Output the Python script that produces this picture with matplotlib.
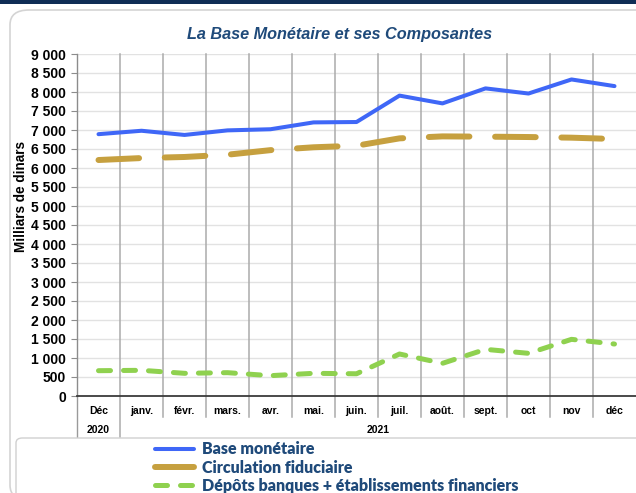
import matplotlib
matplotlib.use("Agg")
import matplotlib.pyplot as plt
import matplotlib.transforms as mtransforms
from matplotlib.patches import FancyBboxPatch, Rectangle
from matplotlib.lines import Line2D

# ---------------- data ----------------
months = ["Déc", "janv.", "févr.", "mars.", "avr.", "mai.", "juin.",
          "juil.", "août.", "sept.", "oct", "nov", "déc"]
years = ["2020", "2021"]
base_monetaire = [6890, 6980, 6870, 6990, 7020, 7200, 7210,
                  7905, 7700, 8095, 7960, 8330, 8155]
circulation_fiduciaire = [6210, 6262, 6290, 6350, 6470, 6545, 6587,
                          6780, 6832, 6825, 6815, 6798, 6763]
depots_banques = [666, 676, 597, 614, 535, 597, 585,
                  1105, 860, 1228, 1123, 1491, 1368]
series_labels = ["Base monétaire", "Circulation fiduciaire",
                 "Dépôts banques + établissements financiers"]
yticks = list(range(0, 9001, 500))

W, H = 636, 493
plt.rcParams['font.family'] = ['Liberation Sans', 'DejaVu Sans']

fig = plt.figure(figsize=(W / 100, H / 100), dpi=100)

def fx(px):
    return px / W

def fy(py):
    return 1 - py / H

# background decorations
fig.patches.append(Rectangle((0, fy(4)), 1, 4 / H, transform=fig.transFigure,
                             facecolor="#0f2d55", edgecolor="none", zorder=-2))
fig.patches.append(FancyBboxPatch((fx(10), fy(500)), fx(700), 490 / H,
                                  boxstyle="round,pad=0,rounding_size=0.03",
                                  transform=fig.transFigure, facecolor="white",
                                  edgecolor="#d4d4d4", linewidth=1.2, zorder=-1))

ax_left, ax_right, ax_top, ax_bot = 77, 636, 54, 396
ax = fig.add_axes([fx(ax_left), fy(ax_bot), (ax_right - ax_left) / W,
                   (ax_bot - ax_top) / H])
ax.set_facecolor("none")
ax.set_zorder(1)

x = list(range(len(months)))
ax.set_xlim(-0.5, len(months) - 0.5)
ax.set_ylim(0, 9000)

# gridlines
for v in yticks[1:]:
    ax.axhline(v, color="#e2e2e2", lw=1.0, zorder=1)
sep_tr = mtransforms.blended_transform_factory(ax.transData, ax.transAxes)
ah = ax_bot - ax_top
for i in range(len(months) - 1):
    xs = i + 0.5
    bottom = -(41 / ah) if i == 0 else -(21 / ah)
    ax.add_line(Line2D([xs, xs], [1, bottom], transform=sep_tr, color="#ababab",
                       lw=1.1, clip_on=False, zorder=1))
ax.add_line(Line2D([-0.5, -0.5], [0, -(41 / ah)], transform=sep_tr, color="#9a9a9a",
                   lw=1.0, clip_on=False, zorder=1))

# series
l1, = ax.plot(x, base_monetaire, color="#3f67f7", lw=2.9,
              solid_capstyle="round", solid_joinstyle="round", zorder=4)
l2, = ax.plot(x, circulation_fiduciaire, color="#c6a03f", lw=4.3,
              dashes=(6.8, 4.3), dash_capstyle="round", dash_joinstyle="round", zorder=3)
l3, = ax.plot(x, depots_banques, color="#8fd14f", lw=3.6,
              dashes=(2.4, 2.6), dash_capstyle="round", dash_joinstyle="round", zorder=3)

# axes styling
for s in ["top", "right"]:
    ax.spines[s].set_visible(False)
ax.spines["left"].set_color("#8c8c8c")
ax.spines["left"].set_linewidth(1.0)
ax.spines["bottom"].set_color("#3a3a3a")
ax.spines["bottom"].set_linewidth(1.3)
ax.set_yticks(yticks)
ax.set_yticklabels([f"{v:,}".replace(",", " ") for v in yticks],
                   fontsize=10, fontweight="bold")
ax.tick_params(axis="y", length=4, width=0.8, color="#8c8c8c", pad=4)
ax.set_xticks(x)
ax.set_xticklabels(months, fontsize=7.5, fontweight="bold")
ax.tick_params(axis="x", length=0, pad=7)

# year labels
ax.text(0, -(34 / ah), years[0], transform=sep_tr, ha="center", va="center",
        fontsize=7.5, fontweight="bold")
ax.text(6.5, -(34 / ah), years[1], transform=sep_tr, ha="center", va="center",
        fontsize=7.5, fontweight="bold")

fig.text(fx(21), fy(197), "Milliars de dinars", rotation=90, ha="center",
         va="center", fontsize=9.8, fontweight="bold")

fig.text(fx(340), fy(35), "La Base Monétaire et ses Composantes",
         ha="center", va="center", fontsize=11.7, fontweight="bold",
         fontstyle="italic", color="#1f4a7a")

# legend box
fig.patches.append(FancyBboxPatch((fx(16), fy(510)), fx(700), 72 / H,
                                  boxstyle="round,pad=0,rounding_size=0.01",
                                  transform=fig.transFigure, facecolor="white",
                                  edgecolor="#d0d0d0", linewidth=1.0, zorder=2))
leg = fig.legend([l1, l2, l3], series_labels, loc="upper left",
                 bbox_to_anchor=(fx(144), fy(430)), frameon=False,
                 prop={"family": "Lato", "weight": "heavy", "size": 11.5},
                 handlelength=2.4, handletextpad=0.55, labelspacing=0.15,
                 borderpad=0.2)
leg.set_zorder(5)
for t in leg.get_texts():
    t.set_color("#1f4a7a")

fig.savefig("out.png", dpi=100)
